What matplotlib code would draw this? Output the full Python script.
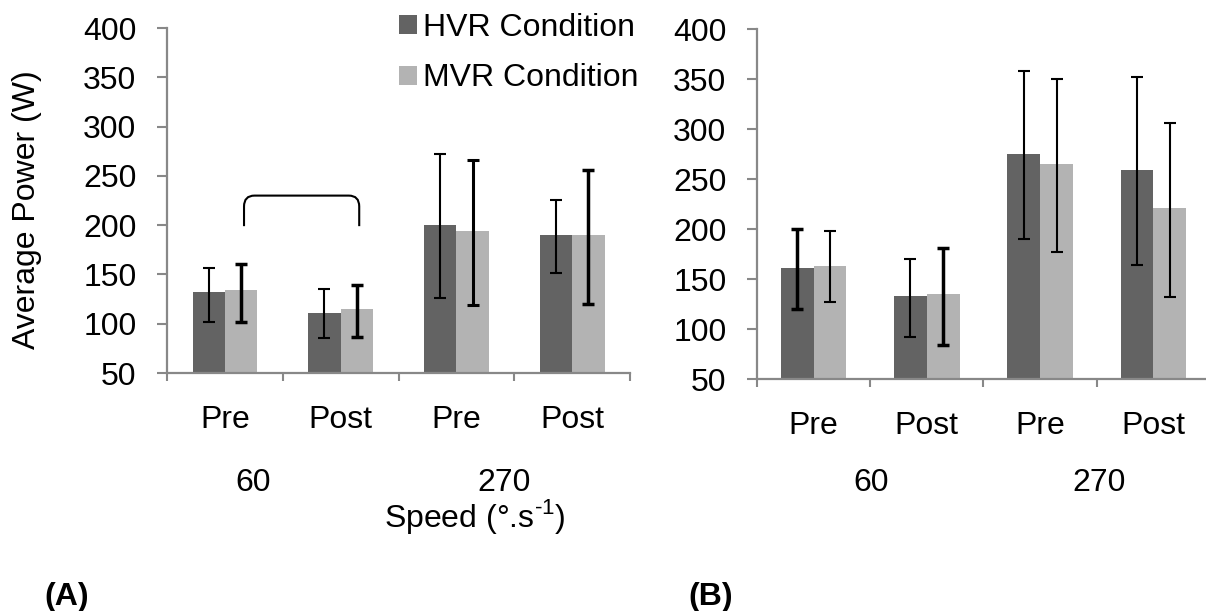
import numpy as np
import matplotlib
matplotlib.use('Agg')
import matplotlib.pyplot as plt
import matplotlib.transforms as mtransforms
from matplotlib.path import Path
from matplotlib.patches import PathPatch

plt.rcParams['font.family'] = ['Liberation Sans', 'DejaVu Sans']
plt.rcParams['mathtext.fontset'] = 'custom'
plt.rcParams['mathtext.rm'] = 'Liberation Sans'

# Data
phases = ['Pre', 'Post', 'Pre', 'Post']
speeds = ['60', '270']
series = ['HVR Condition', 'MVR Condition']

# panel A
a_hvr = [132, 111, 200, 190]
a_hvr_hi = [157, 135, 272, 226]
a_hvr_lo = [102, 86, 126, 151]
a_mvr = [134, 115, 194, 190]
a_mvr_hi = [161, 139, 266, 256]
a_mvr_lo = [102, 87, 119, 120]

# panel B
b_hvr = [161, 133, 275, 259]
b_hvr_hi = [200, 170, 358, 352]
b_hvr_lo = [120, 92, 190, 164]
b_mvr = [163, 135, 265, 221]
b_mvr_hi = [198, 181, 350, 306]
b_mvr_lo = [127, 84, 177, 132]

# significance bracket in panel A (x from/to, y bottom/top)
bracket_x = [0.165, 1.16]
bracket_y = [199, 230]

c_hvr = '#636363'
c_mvr = '#b3b3b3'
c_axis = '#888888'
fs = 23

fig = plt.figure(figsize=(12.06, 6.11), dpi=100)
ax1 = fig.add_axes([0.1385, 0.3895, 0.384, 0.5646])
ax2 = fig.add_axes([0.6277, 0.3797, 0.3756, 0.5728])


def draw_panel(ax, hvr, hvr_hi, hvr_lo, mvr, mvr_hi, mvr_lo, w, lw_h, lw_m, speed_x):
    x = np.arange(len(phases))
    bh = ax.bar(x - w / 2, hvr, w, color=c_hvr, label=series[0])
    bm = ax.bar(x + w / 2, mvr, w, color=c_mvr, label=series[1])
    for i in range(len(x)):
        ax.errorbar(x[i] - w / 2, hvr[i], yerr=[[hvr[i] - hvr_lo[i]], [hvr_hi[i] - hvr[i]]],
                    fmt='none', ecolor='black', elinewidth=lw_h[i], capsize=4.5, capthick=lw_h[i])
        ax.errorbar(x[i] + w / 2, mvr[i], yerr=[[mvr[i] - mvr_lo[i]], [mvr_hi[i] - mvr[i]]],
                    fmt='none', ecolor='black', elinewidth=lw_m[i], capsize=4.5, capthick=lw_m[i])
    ax.set_xlim(-0.5, 3.5)
    ax.set_ylim(50, 400)
    ax.set_yticks(np.arange(50, 401, 50))
    ax.set_xticks(np.arange(-0.5, 3.6, 1))
    ax.set_xticklabels([])
    ax.set_xticks(x, phases, minor=True)
    ax.tick_params(axis='x', which='minor', length=0, pad=23, labelsize=fs)
    ax.tick_params(axis='x', which='major', direction='out', length=6, width=1.5, color=c_axis)
    ax.tick_params(axis='y', direction='out', length=7, width=1.5, color=c_axis, pad=15, labelsize=fs)
    for s in ['top', 'right']:
        ax.spines[s].set_visible(False)
    for s in ['left', 'bottom']:
        ax.spines[s].set_color(c_axis)
        ax.spines[s].set_linewidth(1.6)
    tr = mtransforms.blended_transform_factory(ax.transData, fig.transFigure)
    for sx, lab in zip(speed_x, speeds):
        ax.text(sx, 1 - 483 / 611, lab, transform=tr, ha='center', va='center', fontsize=fs)
    return bh, bm


bh, bm = draw_panel(ax1, a_hvr, a_hvr_hi, a_hvr_lo, a_mvr, a_mvr_hi, a_mvr_lo, 0.28,
                    [1.5, 1.5, 1.5, 1.5], [2.5, 2.5, 2.2, 2.5], [0.24, 2.41])
draw_panel(ax2, b_hvr, b_hvr_hi, b_hvr_lo, b_mvr, b_mvr_hi, b_mvr_lo, 0.29,
           [2.5, 1.5, 1.5, 1.5], [1.5, 2.5, 1.5, 1.5], [0.51, 2.52])

# bracket
x0, x1 = bracket_x
y0, y1 = bracket_y
rx, ry = 0.09, 11
verts = [(x0, y0), (x0, y1 - ry), (x0, y1), (x0 + rx, y1), (x1 - rx, y1),
         (x1, y1), (x1, y1 - ry), (x1, y0)]
codes = [Path.MOVETO, Path.LINETO, Path.CURVE3, Path.CURVE3, Path.LINETO,
         Path.CURVE3, Path.CURVE3, Path.LINETO]
ax1.add_patch(PathPatch(Path(verts, codes), fill=False, lw=1.5, color='black'))

fig.legend(handles=[bh, bm], loc='upper left', bbox_to_anchor=(399 / 1206, 1 - 13 / 611),
           frameon=False, fontsize=fs, handlelength=0.55, handleheight=0.55,
           handletextpad=0.2, labelspacing=0.64, borderpad=0, borderaxespad=0)

fig.text(27 / 1206, 1 - 210 / 611, 'Average Power (W)', rotation=90, ha='center', va='center', fontsize=fs)
fig.text(475 / 1206, 1 - 517 / 611, 'Speed (°.s$^{\\mathregular{\u20101}}$)', ha='center', va='center', fontsize=fs)
fig.text(67 / 1206, 1 - 597 / 611, '(A)', ha='center', va='center', fontsize=fs, fontweight='bold')
fig.text(711 / 1206, 1 - 597 / 611, '(B)', ha='center', va='center', fontsize=fs, fontweight='bold')

fig.savefig('out.png', dpi=100)
